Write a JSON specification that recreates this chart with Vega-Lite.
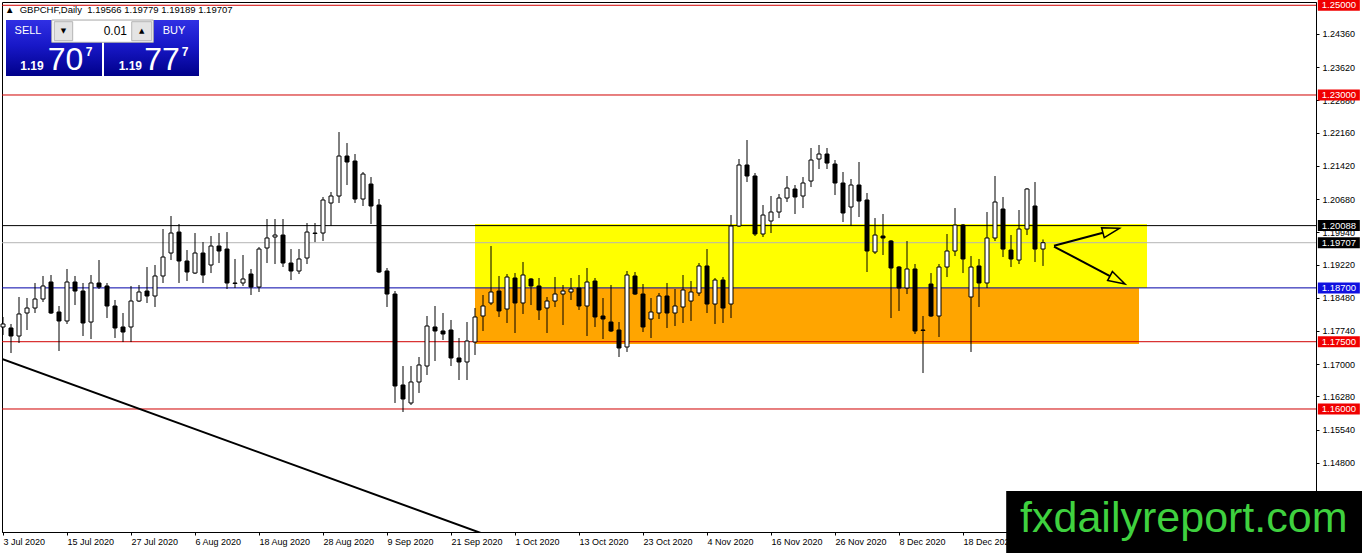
{
  "$schema": "https://vega.github.io/schema/vega-lite/v6.json",
  "description": "GBPCHF daily candles, Jul-Dec 2020, MT4 style",
  "width": 1314,
  "height": 530,
  "autosize": "none",
  "padding": {"left": 2, "top": 2, "right": 46, "bottom": 21},
  "background": "white",
  "config": {"view": {"stroke": "black", "strokeWidth": 1}, "font": "Liberation Sans"},
  "title": {
    "text": "▲\u00a0\u00a0GBPCHF,Daily\u00a0\u00a01.19566 1.19779 1.19189 1.19707",
    "anchor": "start", "frame": "group", "orient": "top",
    "baseline": "top", "offset": -15, "dx": 3,
    "fontSize": 9.5, "fontWeight": "normal", "color": "black", "font": "Liberation Sans"
  },
  "datasets": {
    "candles": [
      {"i":0,"o":1.17828,"h":1.18051,"l":1.17650,"c":1.17895},
      {"i":1,"o":1.17806,"h":1.17895,"l":1.17248,"c":1.17627},
      {"i":2,"o":1.17627,"h":1.18497,"l":1.17471,"c":1.18118},
      {"i":3,"o":1.18140,"h":1.18474,"l":1.17761,"c":1.18251},
      {"i":4,"o":1.18251,"h":1.18809,"l":1.18140,"c":1.18452},
      {"i":5,"o":1.18452,"h":1.18965,"l":1.18385,"c":1.18742},
      {"i":6,"o":1.18831,"h":1.18987,"l":1.18118,"c":1.18140},
      {"i":7,"o":1.18162,"h":1.18296,"l":1.17293,"c":1.17962},
      {"i":8,"o":1.17962,"h":1.19121,"l":1.17895,"c":1.18831},
      {"i":9,"o":1.18831,"h":1.18965,"l":1.18318,"c":1.18630},
      {"i":10,"o":1.18630,"h":1.18809,"l":1.17627,"c":1.17917},
      {"i":11,"o":1.17939,"h":1.18987,"l":1.17560,"c":1.18809},
      {"i":12,"o":1.18809,"h":1.19321,"l":1.18675,"c":1.18719},
      {"i":13,"o":1.18742,"h":1.18809,"l":1.18028,"c":1.18296},
      {"i":14,"o":1.18296,"h":1.18430,"l":1.17583,"c":1.17806},
      {"i":15,"o":1.17828,"h":1.18140,"l":1.17493,"c":1.17716},
      {"i":16,"o":1.17828,"h":1.18742,"l":1.17493,"c":1.18407},
      {"i":17,"o":1.18407,"h":1.18764,"l":1.18385,"c":1.18608},
      {"i":18,"o":1.18630,"h":1.19165,"l":1.18363,"c":1.18519},
      {"i":19,"o":1.18519,"h":1.19210,"l":1.18274,"c":1.18965},
      {"i":20,"o":1.18965,"h":1.20012,"l":1.18809,"c":1.19388},
      {"i":21,"o":1.19477,"h":1.20302,"l":1.19321,"c":1.19923},
      {"i":22,"o":1.19945,"h":1.20124,"l":1.18809,"c":1.19299},
      {"i":23,"o":1.19299,"h":1.19544,"l":1.18853,"c":1.19054},
      {"i":24,"o":1.19031,"h":1.19923,"l":1.19009,"c":1.19477},
      {"i":25,"o":1.19477,"h":1.19722,"l":1.18809,"c":1.18987},
      {"i":26,"o":1.19210,"h":1.19856,"l":1.19031,"c":1.19633},
      {"i":27,"o":1.19633,"h":1.19923,"l":1.19254,"c":1.19522},
      {"i":28,"o":1.19566,"h":1.19945,"l":1.18675,"c":1.18809},
      {"i":29,"o":1.18809,"h":1.19344,"l":1.18697,"c":1.18798},
      {"i":30,"o":1.18809,"h":1.19433,"l":1.18742,"c":1.18898},
      {"i":31,"o":1.19009,"h":1.19121,"l":1.18541,"c":1.18719},
      {"i":32,"o":1.18719,"h":1.19611,"l":1.18608,"c":1.19566},
      {"i":33,"o":1.19589,"h":1.20235,"l":1.19254,"c":1.19812},
      {"i":34,"o":1.19834,"h":1.20235,"l":1.19232,"c":1.19878},
      {"i":35,"o":1.19878,"h":1.20235,"l":1.19165,"c":1.19254},
      {"i":36,"o":1.19254,"h":1.19566,"l":1.18875,"c":1.19076},
      {"i":37,"o":1.19076,"h":1.19566,"l":1.19009,"c":1.19344},
      {"i":38,"o":1.19366,"h":1.20146,"l":1.19232,"c":1.19945},
      {"i":39,"o":1.19923,"h":1.20146,"l":1.19722,"c":1.19912},
      {"i":40,"o":1.19923,"h":1.20726,"l":1.19745,"c":1.20659},
      {"i":41,"o":1.20592,"h":1.20837,"l":1.20079,"c":1.20748},
      {"i":42,"o":1.20748,"h":1.22174,"l":1.20592,"c":1.21639},
      {"i":43,"o":1.21639,"h":1.21929,"l":1.20993,"c":1.21506},
      {"i":44,"o":1.21528,"h":1.21684,"l":1.20592,"c":1.20681},
      {"i":45,"o":1.20681,"h":1.21283,"l":1.20525,"c":1.21238},
      {"i":46,"o":1.21015,"h":1.21171,"l":1.20124,"c":1.20525},
      {"i":47,"o":1.20547,"h":1.20681,"l":1.19031,"c":1.19054},
      {"i":48,"o":1.19076,"h":1.19143,"l":1.18274,"c":1.18563},
      {"i":49,"o":1.18563,"h":1.18630,"l":1.16134,"c":1.16513},
      {"i":50,"o":1.16535,"h":1.16958,"l":1.15933,"c":1.16223},
      {"i":51,"o":1.16134,"h":1.16958,"l":1.16089,"c":1.16602},
      {"i":52,"o":1.16602,"h":1.17159,"l":1.16357,"c":1.16981},
      {"i":53,"o":1.16958,"h":1.18073,"l":1.16758,"c":1.17850},
      {"i":54,"o":1.17828,"h":1.18296,"l":1.17070,"c":1.17739},
      {"i":55,"o":1.17739,"h":1.18140,"l":1.17538,"c":1.17672},
      {"i":56,"o":1.17761,"h":1.17984,"l":1.16958,"c":1.17137},
      {"i":57,"o":1.17137,"h":1.17583,"l":1.16646,"c":1.17048},
      {"i":58,"o":1.17048,"h":1.17939,"l":1.16646,"c":1.17516},
      {"i":59,"o":1.17493,"h":1.18251,"l":1.17204,"c":1.18051},
      {"i":60,"o":1.18073,"h":1.18541,"l":1.17739,"c":1.18296},
      {"i":61,"o":1.18363,"h":1.19633,"l":1.18318,"c":1.18608},
      {"i":62,"o":1.18630,"h":1.18965,"l":1.18051,"c":1.18185},
      {"i":63,"o":1.18229,"h":1.19009,"l":1.17917,"c":1.18942},
      {"i":64,"o":1.18920,"h":1.19031,"l":1.17694,"c":1.18363},
      {"i":65,"o":1.18363,"h":1.19277,"l":1.18118,"c":1.18987},
      {"i":66,"o":1.18898,"h":1.18920,"l":1.18318,"c":1.18742},
      {"i":67,"o":1.18742,"h":1.18920,"l":1.17984,"c":1.18207},
      {"i":68,"o":1.18251,"h":1.18497,"l":1.17694,"c":1.18407},
      {"i":69,"o":1.18407,"h":1.18942,"l":1.18274,"c":1.18563},
      {"i":70,"o":1.18563,"h":1.18764,"l":1.17872,"c":1.18630},
      {"i":71,"o":1.18608,"h":1.18920,"l":1.18430,"c":1.18675},
      {"i":72,"o":1.18697,"h":1.18987,"l":1.18207,"c":1.18296},
      {"i":73,"o":1.18296,"h":1.19143,"l":1.17627,"c":1.18831},
      {"i":74,"o":1.18853,"h":1.18920,"l":1.17828,"c":1.18051},
      {"i":75,"o":1.18073,"h":1.18474,"l":1.17560,"c":1.18006},
      {"i":76,"o":1.17939,"h":1.18764,"l":1.17716,"c":1.17739},
      {"i":77,"o":1.17761,"h":1.17939,"l":1.17159,"c":1.17360},
      {"i":78,"o":1.17382,"h":1.19076,"l":1.17271,"c":1.18987},
      {"i":79,"o":1.18965,"h":1.19054,"l":1.18541,"c":1.18563},
      {"i":80,"o":1.18563,"h":1.18786,"l":1.17716,"c":1.17828},
      {"i":81,"o":1.18006,"h":1.18474,"l":1.17583,"c":1.18162},
      {"i":82,"o":1.18140,"h":1.18586,"l":1.18006,"c":1.18519},
      {"i":83,"o":1.18519,"h":1.18809,"l":1.17806,"c":1.18140},
      {"i":84,"o":1.18140,"h":1.18675,"l":1.17850,"c":1.18296},
      {"i":85,"o":1.18274,"h":1.18987,"l":1.17917,"c":1.18653},
      {"i":86,"o":1.18407,"h":1.18853,"l":1.17962,"c":1.18608},
      {"i":87,"o":1.18586,"h":1.19254,"l":1.18519,"c":1.19188},
      {"i":88,"o":1.19188,"h":1.19566,"l":1.18140,"c":1.18340},
      {"i":89,"o":1.18340,"h":1.18920,"l":1.17895,"c":1.18875},
      {"i":90,"o":1.18875,"h":1.18942,"l":1.17917,"c":1.18251},
      {"i":91,"o":1.18340,"h":1.20324,"l":1.18028,"c":1.20079},
      {"i":92,"o":1.20079,"h":1.21573,"l":1.20057,"c":1.21439},
      {"i":93,"o":1.21439,"h":1.21996,"l":1.21060,"c":1.21194},
      {"i":94,"o":1.21194,"h":1.21261,"l":1.19856,"c":1.19901},
      {"i":95,"o":1.19901,"h":1.20547,"l":1.19834,"c":1.20324},
      {"i":96,"o":1.20191,"h":1.20748,"l":1.19923,"c":1.20391},
      {"i":97,"o":1.20391,"h":1.20792,"l":1.20257,"c":1.20703},
      {"i":98,"o":1.20703,"h":1.21194,"l":1.20614,"c":1.20926},
      {"i":99,"o":1.20904,"h":1.20993,"l":1.20347,"c":1.20726},
      {"i":100,"o":1.20748,"h":1.21171,"l":1.20480,"c":1.21038},
      {"i":101,"o":1.21082,"h":1.21818,"l":1.20948,"c":1.21550},
      {"i":102,"o":1.21573,"h":1.21885,"l":1.21350,"c":1.21684},
      {"i":103,"o":1.21684,"h":1.21818,"l":1.21350,"c":1.21483},
      {"i":104,"o":1.21461,"h":1.21550,"l":1.20770,"c":1.21038},
      {"i":105,"o":1.21038,"h":1.21283,"l":1.20168,"c":1.20369},
      {"i":106,"o":1.20503,"h":1.21127,"l":1.20079,"c":1.20993},
      {"i":107,"o":1.20993,"h":1.21506,"l":1.20280,"c":1.20636},
      {"i":108,"o":1.20659,"h":1.20815,"l":1.19054,"c":1.19522},
      {"i":109,"o":1.19500,"h":1.20257,"l":1.19455,"c":1.19878},
      {"i":110,"o":1.19856,"h":1.20347,"l":1.19433,"c":1.19812},
      {"i":111,"o":1.19745,"h":1.19767,"l":1.18028,"c":1.19143},
      {"i":112,"o":1.19165,"h":1.19188,"l":1.18185,"c":1.18697},
      {"i":113,"o":1.18697,"h":1.19745,"l":1.18563,"c":1.19121},
      {"i":114,"o":1.19121,"h":1.19232,"l":1.17672,"c":1.17739},
      {"i":115,"o":1.17761,"h":1.18073,"l":1.16802,"c":1.17750},
      {"i":116,"o":1.18786,"h":1.19031,"l":1.18051,"c":1.18073},
      {"i":117,"o":1.18073,"h":1.19232,"l":1.17605,"c":1.19165},
      {"i":118,"o":1.19165,"h":1.19901,"l":1.18942,"c":1.19522},
      {"i":119,"o":1.19522,"h":1.20480,"l":1.19410,"c":1.20101},
      {"i":120,"o":1.20101,"h":1.20124,"l":1.19031,"c":1.19344},
      {"i":121,"o":1.18497,"h":1.19410,"l":1.17271,"c":1.19165},
      {"i":122,"o":1.19188,"h":1.19344,"l":1.18274,"c":1.18809},
      {"i":123,"o":1.18809,"h":1.20391,"l":1.18697,"c":1.19812},
      {"i":124,"o":1.19812,"h":1.21194,"l":1.19745,"c":1.20614},
      {"i":125,"o":1.20458,"h":1.20726,"l":1.19388,"c":1.19566},
      {"i":126,"o":1.19544,"h":1.19878,"l":1.19165,"c":1.19344},
      {"i":127,"o":1.19321,"h":1.20436,"l":1.19232,"c":1.20012},
      {"i":128,"o":1.20012,"h":1.20926,"l":1.19878,"c":1.20904},
      {"i":129,"o":1.20525,"h":1.21060,"l":1.19277,"c":1.19566},
      {"i":130,"o":1.19566,"h":1.19779,"l":1.19189,"c":1.19707}
    ],
    "levels": [
      {"level": 1.25, "kind": "red"},
      {"level": 1.23, "kind": "red"},
      {"level": 1.20088, "kind": "black"},
      {"level": 1.19707, "kind": "bid"},
      {"level": 1.187, "kind": "blue"},
      {"level": 1.175, "kind": "red"},
      {"level": 1.16, "kind": "red"}
    ],
    "zones": [
      {"zone": "yellow", "x1": 59, "x2": 143, "top": 1.20124, "bottom": 1.18697},
      {"zone": "orange", "x1": 59, "x2": 142, "top": 1.18697, "bottom": 1.17449}
    ],
    "trend": [
      {"x": -0.125, "y": 1.17115},
      {"x": 62, "y": 1.13089}
    ],
    "arrows": [
      {"id": 1, "x1": 131.375, "y1": 1.19640, "x2": 137.49, "y2": 1.19930, "tx": 139.54, "ty": 1.20028},
      {"id": 2, "x1": 131.375, "y1": 1.19622, "x2": 138.375, "y2": 1.18963, "tx": 140.25, "ty": 1.18786}
    ],
    "panel": [
      {"side": "SELL", "x1": 0.375, "x2": 12.375, "top": 1.24671, "bottom": 1.23423},
      {"side": "BUY", "x1": 12.625, "x2": 24.5, "top": 1.24671, "bottom": 1.23423}
    ],
    "lot": [{"x1": 6.09, "x2": 18.79, "top": 1.24671, "bottom": 1.24174, "t": "0.01", "tx": 15.5, "ty": 1.24426}],
    "buttons": [
      {"x1": 6.41, "x2": 8.71, "top": 1.24634, "bottom": 1.24210, "t": "▼", "tx": 7.56, "ty": 1.24426},
      {"x1": 16.09, "x2": 18.59, "top": 1.24634, "bottom": 1.24210, "t": "▲", "tx": 17.34, "ty": 1.24426}
    ],
    "sides": [
      {"t": "SELL", "x": 3.125, "y": 1.24426},
      {"t": "BUY", "x": 21.375, "y": 1.24426}
    ],
    "quotes": [
      {"big": "1.19", "pips": "70", "frac": "7", "xb": 3.625, "xp": 7.81, "xf": 10.75},
      {"big": "1.19", "pips": "77", "frac": "7", "xb": 15.92, "xp": 19.875, "xf": 22.75}
    ],
    "logo": [{"x1": 125.4, "x2": 170, "top": 1.14172, "bottom": 1.1279, "t": "fxdailyreport.com", "tx": 147.6, "ty": 1.13258}]
  },
  "layer": [
    {
      "data": {"name": "zones"},
      "mark": {"type": "rect"},
      "encoding": {
        "x": {
          "field": "x1", "type": "quantitative",
          "scale": {"domain": [-0.125, 164.125], "nice": false, "zero": false, "padding": 0},
          "axis": {
            "values": [0, 8, 16, 24, 32, 40, 48, 56, 64, 72, 80, 88, 96, 104, 112, 120],
            "labelExpr": "['3 Jul 2020','15 Jul 2020','27 Jul 2020','6 Aug 2020','18 Aug 2020','28 Aug 2020','9 Sep 2020','21 Sep 2020','1 Oct 2020','13 Oct 2020','23 Oct 2020','4 Nov 2020','16 Nov 2020','26 Nov 2020','8 Dec 2020','18 Dec 2020'][round(datum.value / 8)]",
            "title": null, "grid": false, "domainColor": "black", "tickColor": "black", "tickSize": 3,
            "labelAlign": "left", "labelBaseline": "top", "labelPadding": 2, "labelFontSize": 9,
            "labelColor": "black", "labelOverlap": false, "labelFlush": false, "labelBound": false
          }
        },
        "x2": {"field": "x2"},
        "y": {
          "field": "top", "type": "quantitative",
          "scale": {"domain": [1.13258, 1.25073], "nice": false, "zero": false, "padding": 0},
          "axis": {
            "orient": "right",
            "values": [1.2436, 1.2362, 1.2288, 1.2216, 1.2142, 1.2068, 1.1994, 1.1922, 1.1848, 1.1774, 1.17, 1.1628, 1.1554, 1.148],
            "format": ".5f", "title": null, "grid": false, "domainColor": "black", "tickColor": "black", "tickSize": 3,
            "labelPadding": 3, "labelFontSize": 9, "labelColor": "black", "labelOverlap": false, "labelFlush": false
          }
        },
        "y2": {"field": "bottom"},
        "fill": {"field": "zone", "type": "nominal", "scale": {"domain": ["yellow", "orange"], "range": ["#ffff00", "#ffa500"]}, "legend": null}
      }
    },
    {
      "data": {"name": "levels"},
      "mark": {"type": "rule", "strokeWidth": 1},
      "encoding": {
        "y": {"field": "level", "type": "quantitative", "scale": {"domain": [1.13258, 1.25073], "nice": false, "zero": false, "padding": 0}},
        "stroke": {"field": "kind", "type": "nominal", "scale": {"domain": ["red", "black", "bid", "blue"], "range": ["#d00000", "#000000", "#b4b4b4", "#0000a8"]}, "legend": null}
      }
    },
    {
      "data": {"name": "trend"},
      "mark": {"type": "line", "color": "black", "strokeWidth": 2, "clip": true},
      "encoding": {
        "x": {"field": "x", "type": "quantitative", "scale": {"domain": [-0.125, 164.125], "nice": false, "zero": false, "padding": 0}},
        "y": {"field": "y", "type": "quantitative", "scale": {"domain": [1.13258, 1.25073], "nice": false, "zero": false, "padding": 0}}
      }
    },
    {
      "data": {"name": "candles"},
      "mark": {"type": "rule", "color": "black", "strokeWidth": 1},
      "encoding": {
        "x": {"field": "i", "type": "quantitative", "scale": {"domain": [-0.125, 164.125], "nice": false, "zero": false, "padding": 0}},
        "y": {"field": "l", "type": "quantitative", "scale": {"domain": [1.13258, 1.25073], "nice": false, "zero": false, "padding": 0}},
        "y2": {"field": "h"}
      }
    },
    {
      "data": {"name": "candles"},
      "mark": {"type": "bar", "width": 4, "stroke": "black", "strokeWidth": 1},
      "encoding": {
        "x": {"field": "i", "type": "quantitative", "scale": {"domain": [-0.125, 164.125], "nice": false, "zero": false, "padding": 0}},
        "y": {"field": "o", "type": "quantitative", "scale": {"domain": [1.13258, 1.25073], "nice": false, "zero": false, "padding": 0}},
        "y2": {"field": "c"},
        "fill": {"condition": {"test": "datum.c >= datum.o", "value": "white"}, "value": "black"}
      }
    },
    {
      "data": {"name": "arrows"},
      "mark": {"type": "rule", "color": "black", "strokeWidth": 2},
      "encoding": {
        "x": {"field": "x1", "type": "quantitative", "scale": {"domain": [-0.125, 164.125], "nice": false, "zero": false, "padding": 0}},
        "x2": {"field": "x2"},
        "y": {"field": "y1", "type": "quantitative", "scale": {"domain": [1.13258, 1.25073], "nice": false, "zero": false, "padding": 0}},
        "y2": {"field": "y2"}
      }
    },
    {
      "data": {"name": "arrows"},
      "transform": [{"filter": "datum.id == 1"}],
      "mark": {"type": "point", "shape": "M0,0L-1,-0.3L-1,0.3Z", "size": 1156, "filled": false, "stroke": "black", "strokeWidth": 1.5, "opacity": 1, "angle": -15},
      "encoding": {
        "x": {"field": "tx", "type": "quantitative", "scale": {"domain": [-0.125, 164.125], "nice": false, "zero": false, "padding": 0}},
        "y": {"field": "ty", "type": "quantitative", "scale": {"domain": [1.13258, 1.25073], "nice": false, "zero": false, "padding": 0}}
      }
    },
    {
      "data": {"name": "arrows"},
      "transform": [{"filter": "datum.id == 2"}],
      "mark": {"type": "point", "shape": "M0,0L-1,-0.3L-1,0.3Z", "size": 1156, "filled": false, "stroke": "black", "strokeWidth": 1.5, "opacity": 1, "angle": 28},
      "encoding": {
        "x": {"field": "tx", "type": "quantitative", "scale": {"domain": [-0.125, 164.125], "nice": false, "zero": false, "padding": 0}},
        "y": {"field": "ty", "type": "quantitative", "scale": {"domain": [1.13258, 1.25073], "nice": false, "zero": false, "padding": 0}}
      }
    },
    {
      "data": {"name": "levels"},
      "mark": {"type": "tick", "orient": "horizontal", "size": 42, "thickness": 11, "opacity": 1},
      "encoding": {
        "x": {"datum": 166.98, "type": "quantitative", "scale": {"domain": [-0.125, 164.125], "nice": false, "zero": false, "padding": 0}},
        "y": {"field": "level", "type": "quantitative", "scale": {"domain": [1.13258, 1.25073], "nice": false, "zero": false, "padding": 0}},
        "color": {"field": "kind", "type": "nominal", "scale": {"domain": ["red", "black", "bid", "blue"], "range": ["#f00000", "#000000", "#000000", "#1010e0"]}, "legend": null}
      }
    },
    {
      "data": {"name": "levels"},
      "mark": {"type": "text", "align": "left", "baseline": "middle", "fontSize": 9.5, "color": "white"},
      "encoding": {
        "x": {"datum": 164.85, "type": "quantitative", "scale": {"domain": [-0.125, 164.125], "nice": false, "zero": false, "padding": 0}},
        "y": {"field": "level", "type": "quantitative", "scale": {"domain": [1.13258, 1.25073], "nice": false, "zero": false, "padding": 0}},
        "text": {"field": "level", "type": "quantitative", "format": ".5f"}
      }
    },
    {
      "data": {"name": "panel"},
      "mark": {
        "type": "rect",
        "fill": {"gradient": "linear", "x1": 0, "y1": 0, "x2": 0, "y2": 1, "stops": [{"offset": 0, "color": "#3030e4"}, {"offset": 0.45, "color": "#1818c8"}, {"offset": 1, "color": "#00008a"}]}
      },
      "encoding": {
        "x": {"field": "x1", "type": "quantitative", "scale": {"domain": [-0.125, 164.125], "nice": false, "zero": false, "padding": 0}},
        "x2": {"field": "x2"},
        "y": {"field": "top", "type": "quantitative", "scale": {"domain": [1.13258, 1.25073], "nice": false, "zero": false, "padding": 0}},
        "y2": {"field": "bottom"}
      }
    },
    {
      "data": {"name": "lot"},
      "mark": {"type": "rect", "fill": "white", "stroke": "#a8a8a8", "strokeWidth": 1},
      "encoding": {
        "x": {"field": "x1", "type": "quantitative", "scale": {"domain": [-0.125, 164.125], "nice": false, "zero": false, "padding": 0}},
        "x2": {"field": "x2"},
        "y": {"field": "top", "type": "quantitative", "scale": {"domain": [1.13258, 1.25073], "nice": false, "zero": false, "padding": 0}},
        "y2": {"field": "bottom"}
      }
    },
    {
      "data": {"name": "buttons"},
      "mark": {"type": "rect", "fill": "#e4e4e4", "stroke": "#b4b4b4", "strokeWidth": 1},
      "encoding": {
        "x": {"field": "x1", "type": "quantitative", "scale": {"domain": [-0.125, 164.125], "nice": false, "zero": false, "padding": 0}},
        "x2": {"field": "x2"},
        "y": {"field": "top", "type": "quantitative", "scale": {"domain": [1.13258, 1.25073], "nice": false, "zero": false, "padding": 0}},
        "y2": {"field": "bottom"}
      }
    },
    {
      "data": {"name": "buttons"},
      "mark": {"type": "text", "align": "center", "baseline": "middle", "fontSize": 7, "color": "black", "font": "DejaVu Sans"},
      "encoding": {
        "x": {"field": "tx", "type": "quantitative", "scale": {"domain": [-0.125, 164.125], "nice": false, "zero": false, "padding": 0}},
        "y": {"field": "ty", "type": "quantitative", "scale": {"domain": [1.13258, 1.25073], "nice": false, "zero": false, "padding": 0}},
        "text": {"field": "t"}
      }
    },
    {
      "data": {"name": "lot"},
      "mark": {"type": "text", "align": "right", "baseline": "middle", "fontSize": 12, "color": "black"},
      "encoding": {
        "x": {"field": "tx", "type": "quantitative", "scale": {"domain": [-0.125, 164.125], "nice": false, "zero": false, "padding": 0}},
        "y": {"field": "ty", "type": "quantitative", "scale": {"domain": [1.13258, 1.25073], "nice": false, "zero": false, "padding": 0}},
        "text": {"field": "t"}
      }
    },
    {
      "data": {"name": "sides"},
      "mark": {"type": "text", "align": "center", "baseline": "middle", "fontSize": 11, "color": "white"},
      "encoding": {
        "x": {"field": "x", "type": "quantitative", "scale": {"domain": [-0.125, 164.125], "nice": false, "zero": false, "padding": 0}},
        "y": {"field": "y", "type": "quantitative", "scale": {"domain": [1.13258, 1.25073], "nice": false, "zero": false, "padding": 0}},
        "text": {"field": "t"}
      }
    },
    {
      "data": {"name": "quotes"},
      "mark": {"type": "text", "align": "center", "baseline": "alphabetic", "fontSize": 12, "fontWeight": "bold", "color": "white"},
      "encoding": {
        "x": {"field": "xb", "type": "quantitative", "scale": {"domain": [-0.125, 164.125], "nice": false, "zero": false, "padding": 0}},
        "y": {"datum": 1.23557, "type": "quantitative", "scale": {"domain": [1.13258, 1.25073], "nice": false, "zero": false, "padding": 0}},
        "text": {"field": "big"}
      }
    },
    {
      "data": {"name": "quotes"},
      "mark": {"type": "text", "align": "center", "baseline": "alphabetic", "fontSize": 32, "color": "white"},
      "encoding": {
        "x": {"field": "xp", "type": "quantitative", "scale": {"domain": [-0.125, 164.125], "nice": false, "zero": false, "padding": 0}},
        "y": {"datum": 1.23557, "type": "quantitative", "scale": {"domain": [1.13258, 1.25073], "nice": false, "zero": false, "padding": 0}},
        "text": {"field": "pips"}
      }
    },
    {
      "data": {"name": "quotes"},
      "mark": {"type": "text", "align": "center", "baseline": "top", "fontSize": 12, "fontWeight": "bold", "color": "white"},
      "encoding": {
        "x": {"field": "xf", "type": "quantitative", "scale": {"domain": [-0.125, 164.125], "nice": false, "zero": false, "padding": 0}},
        "y": {"datum": 1.24076, "type": "quantitative", "scale": {"domain": [1.13258, 1.25073], "nice": false, "zero": false, "padding": 0}},
        "text": {"field": "frac"}
      }
    },
    {
      "data": {"name": "logo"},
      "mark": {"type": "rect", "fill": "black"},
      "encoding": {
        "x": {"field": "x1", "type": "quantitative", "scale": {"domain": [-0.125, 164.125], "nice": false, "zero": false, "padding": 0}},
        "x2": {"field": "x2"},
        "y": {"field": "top", "type": "quantitative", "scale": {"domain": [1.13258, 1.25073], "nice": false, "zero": false, "padding": 0}},
        "y2": {"field": "bottom"}
      }
    },
    {
      "data": {"name": "logo"},
      "mark": {"type": "text", "align": "center", "baseline": "alphabetic", "fontSize": 43, "color": "#3fd13f"},
      "encoding": {
        "x": {"field": "tx", "type": "quantitative", "scale": {"domain": [-0.125, 164.125], "nice": false, "zero": false, "padding": 0}},
        "y": {"field": "ty", "type": "quantitative", "scale": {"domain": [1.13258, 1.25073], "nice": false, "zero": false, "padding": 0}},
        "text": {"field": "t"}
      }
    }
  ]
}
